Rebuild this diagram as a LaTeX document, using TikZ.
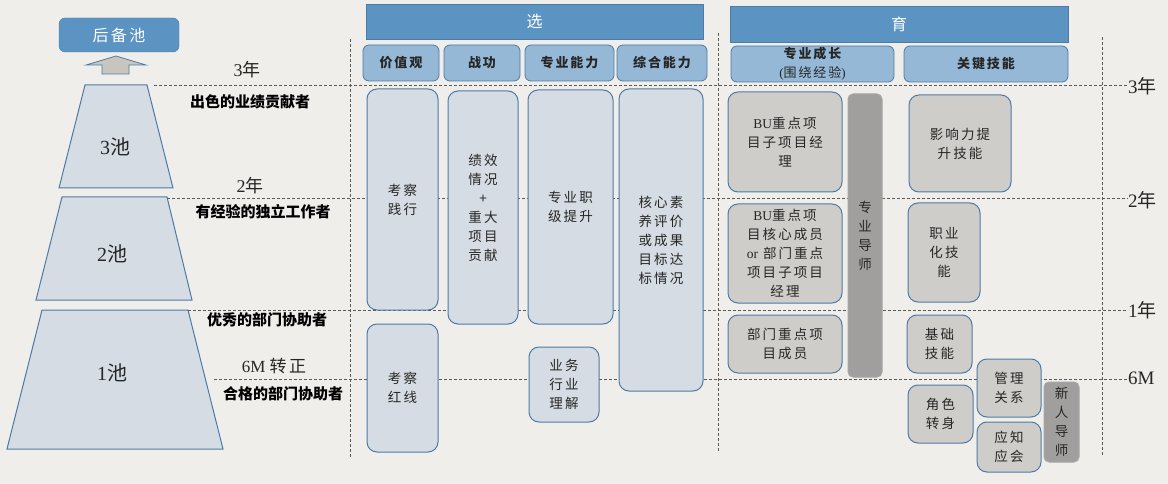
\documentclass[tikz,border=0pt]{standalone}
\usepackage{fontspec}
\setmainfont{Liberation Serif}
\newfontfamily\cjk{Noto Sans CJK SC}
\newfontfamily\cjkwide[LetterSpace=15]{Noto Sans CJK SC}
\usetikzlibrary{positioning}
\usepackage{xcolor}
\definecolor{bgpaper}{HTML}{F0EEEA}
\definecolor{poolfill}{HTML}{D5DCE3}
\definecolor{pooledge}{HTML}{4D7BA6}
\definecolor{headblue}{HTML}{5B93C2}
\definecolor{subblue}{HTML}{94B8D6}
\definecolor{greyfill}{HTML}{CFCDCA}
\definecolor{arrowgrey}{HTML}{C8C4BE}
\definecolor{darkgrey}{HTML}{A09F9D}
\definecolor{dashgrey}{HTML}{5A5A5A}
\definecolor{inkgrey}{HTML}{262626}
\tikzstyle{bigbar} = [rectangle, draw=pooledge, fill=headblue, text=white, font=\cjk\fontsize{16}{18}\selectfont, inner sep=0pt, line width=0.8pt]
\tikzstyle{subhead} = [rectangle, rounded corners=6pt, draw=pooledge, fill=subblue, text=inkgrey, font=\cjkwide\bfseries\fontsize{13}{16}\selectfont, align=center, inner sep=0pt, line width=0.8pt]
\tikzstyle{selbox} = [rectangle, rounded corners=10pt, draw=pooledge, fill=poolfill, text=inkgrey, align=center, font=\cjkwide\fontsize{13.5}{19}\selectfont, inner sep=0pt, line width=1pt]
\tikzstyle{growbox} = [selbox, fill=greyfill]
\tikzstyle{mentor} = [selbox, rounded corners=5pt, draw=gray!70, fill=darkgrey]
\tikzstyle{pool} = [draw=pooledge, fill=poolfill, line width=1pt]
\tikzstyle{dashline} = [dashgrey, dash pattern=on 3pt off 2pt, line width=0.7pt]
\tikzstyle{yearmark} = [inner sep=0pt, anchor=west, text=inkgrey, font=\fontsize{19}{20}\selectfont]
\tikzstyle{stage} = [inner sep=0pt, text=black, font=\cjk\bfseries\fontsize{15}{17}\selectfont]

\begin{document}
\begin{tikzpicture}[x=1pt, y=-1pt]
  \fill[bgpaper] (0,0) rectangle (1168,484);
  \useasboundingbox (0,0) rectangle (1168,484);

  % pools
  \draw[pool] (85,85) -- (147,85) -- (173,188) -- (59,188) -- cycle;
  \draw[pool] (62,197) -- (167,197) -- (192,300) -- (36,300) -- cycle;
  \draw[pool] (42,310) -- (188,310) -- (223,449) -- (7,449) -- cycle;
  \node[text=inkgrey, font=\fontsize{20}{20}\selectfont] (pool3) at (115,147) {3\cjk 池};
  \node[text=inkgrey, font=\fontsize{20}{20}\selectfont] (pool2) at (112,254) {2\cjk 池};
  \node[text=inkgrey, font=\fontsize{20}{20}\selectfont] (pool1) at (112,373) {1\cjk 池};

  \node[rectangle, rounded corners=6pt, draw=pooledge, fill=headblue, text=white, minimum width=120pt, minimum height=34pt, inner sep=0pt, font=\cjkwide\fontsize{16}{18}\selectfont] (reserve) at (119,35) {后备池};
  \draw[draw=pooledge, fill=arrowgrey, line width=0.8pt] (86,65) -- (116,56) -- (146,65) -- (129,65) -- (129,74) -- (102,74) -- (102,65) -- cycle;

  % time lines
  \node[yearmark] (y3r) at (1128,86) {3\cjk 年};
  \node[yearmark] (y2r) at (1128,200) {2\cjk 年};
  \node[yearmark] (y1r) at (1128,310) {1\cjk 年};
  \node[yearmark] (m6r) at (1128,378) {6M};
  \coordinate (y3l) at (154,85);
  \coordinate (y2l) at (167,198);
  \coordinate (y1l) at (188,310);
  \coordinate (m6l) at (214,379);
  \draw[dashline] (y3l) -- (y3l -| y3r.west);
  \draw[dashline] (y2l) -- (y2l -| y2r.west);
  \draw[dashline] (y1l) -- (y1l -| y1r.west);
  \draw[dashline] (m6l) -- (m6l -| m6r.west);
  \draw[dashline] (350,39) -- (350,458);
  \draw[dashline] (718,33) -- (718,452);
  \draw[dashline] (1102,37) -- (1102,455);

  \node[text=inkgrey, font=\fontsize{18}{18}\selectfont] (y3) at (247,70) {3\cjk 年};
  \node[stage] (star) at (250,102) {出色的业绩贡献者};
  \node[text=inkgrey, font=\fontsize{18}{18}\selectfont] (y2) at (250,186) {2\cjk 年};
  \node[stage] (expert) at (263,212) {有经验的独立工作者};
  \node[stage] (helper) at (267,320) {优秀的部门协助者};
  \node[text=inkgrey, font=\fontsize{17}{18}\selectfont] (m6) at (274,366) {6M \cjkwide 转正};
  \node[stage] (trainee) at (283,394) {合格的部门协助者};

  % select
  \node[bigbar, minimum width=337pt, minimum height=35pt] (select) at (534.5,21.5) {选};
  \node[subhead, minimum width=76pt, minimum height=36pt] (hvalue) at (401,63) {价值观};
  \node[subhead, minimum width=76pt, minimum height=36pt] (hmerit) at (482,63) {战功};
  \node[subhead, minimum width=89pt, minimum height=36pt] (hskill) at (569.5,63) {专业能力};
  \node[subhead, minimum width=90pt, minimum height=36pt] (hcomp) at (662,63) {综合能力};

  \node[selbox, minimum width=71pt, minimum height=221pt] (value1) at (402.5,199.5) {考察\\践行};
  \node[selbox, minimum width=71pt, minimum height=128pt] (value2) at (402.5,388) {考察\\红线};
  \node[selbox, minimum width=70pt, minimum height=233pt] (merit) at (483,207.5) {绩效\\情况\\+\\重大\\项目\\贡献};
  \node[selbox, minimum width=85pt, minimum height=234pt] (skill1) at (570.5,207) {专业职\\级提升};
  \node[selbox, minimum width=70pt, minimum height=75pt] (skill2) at (564,384.5) {业务\\行业\\理解};
  \node[selbox, minimum width=84pt, minimum height=302pt] (comp) at (661,240) {核心素\\养评价\\或成果\\目标达\\标情况};

  % grow
  \node[bigbar, minimum width=338pt, minimum height=36pt] (grow) at (899,24) {育};
  \node[subhead, minimum width=163pt, minimum height=36pt, font=\cjkwide\bfseries\fontsize{13}{19}\selectfont] (hgrow) at (812.5,64) {专业成长\\\mdseries{\rmfamily(}围绕经验{\rmfamily)}};
  \node[subhead, minimum width=164pt, minimum height=36pt] (hkey) at (986,64) {关键技能};

  \node[growbox, minimum width=114pt, minimum height=100pt] (bulead) at (785,142) {{\rmfamily BU}重点项\\目子项目经\\理};
  \node[growbox, minimum width=114pt, minimum height=99pt] (bucore) at (785,253.5) {{\rmfamily BU}重点项\\目核心成员\\{\rmfamily or} 部门重点\\项目子项目\\经理};
  \node[growbox, minimum width=114pt, minimum height=58pt] (deptmem) at (785,344) {部门重点项\\目成员};
  \node[mentor, minimum width=34pt, minimum height=283pt] (tutor) at (865,235.5) {专\\业\\导\\师};

  \node[growbox, minimum width=102pt, minimum height=97pt] (influence) at (960,143.5) {影响力提\\升技能};
  \node[growbox, minimum width=72pt, minimum height=99pt] (profess) at (944,252.5) {职业\\化技\\能};
  \node[growbox, minimum width=65pt, minimum height=58pt] (basic) at (939.5,344) {基础\\技能};
  \node[growbox, minimum width=64pt, minimum height=58pt] (manage) at (1009,388) {管理\\关系};
  \node[growbox, minimum width=65pt, minimum height=58pt] (role) at (940.5,414) {角色\\转身};
  \node[growbox, minimum width=64pt, minimum height=50pt] (know) at (1009,447) {应知\\应会};
  \node[mentor, minimum width=35pt, minimum height=80pt] (newtutor) at (1061.5,422) {新\\人\\导\\师};
\end{tikzpicture}
\end{document}
